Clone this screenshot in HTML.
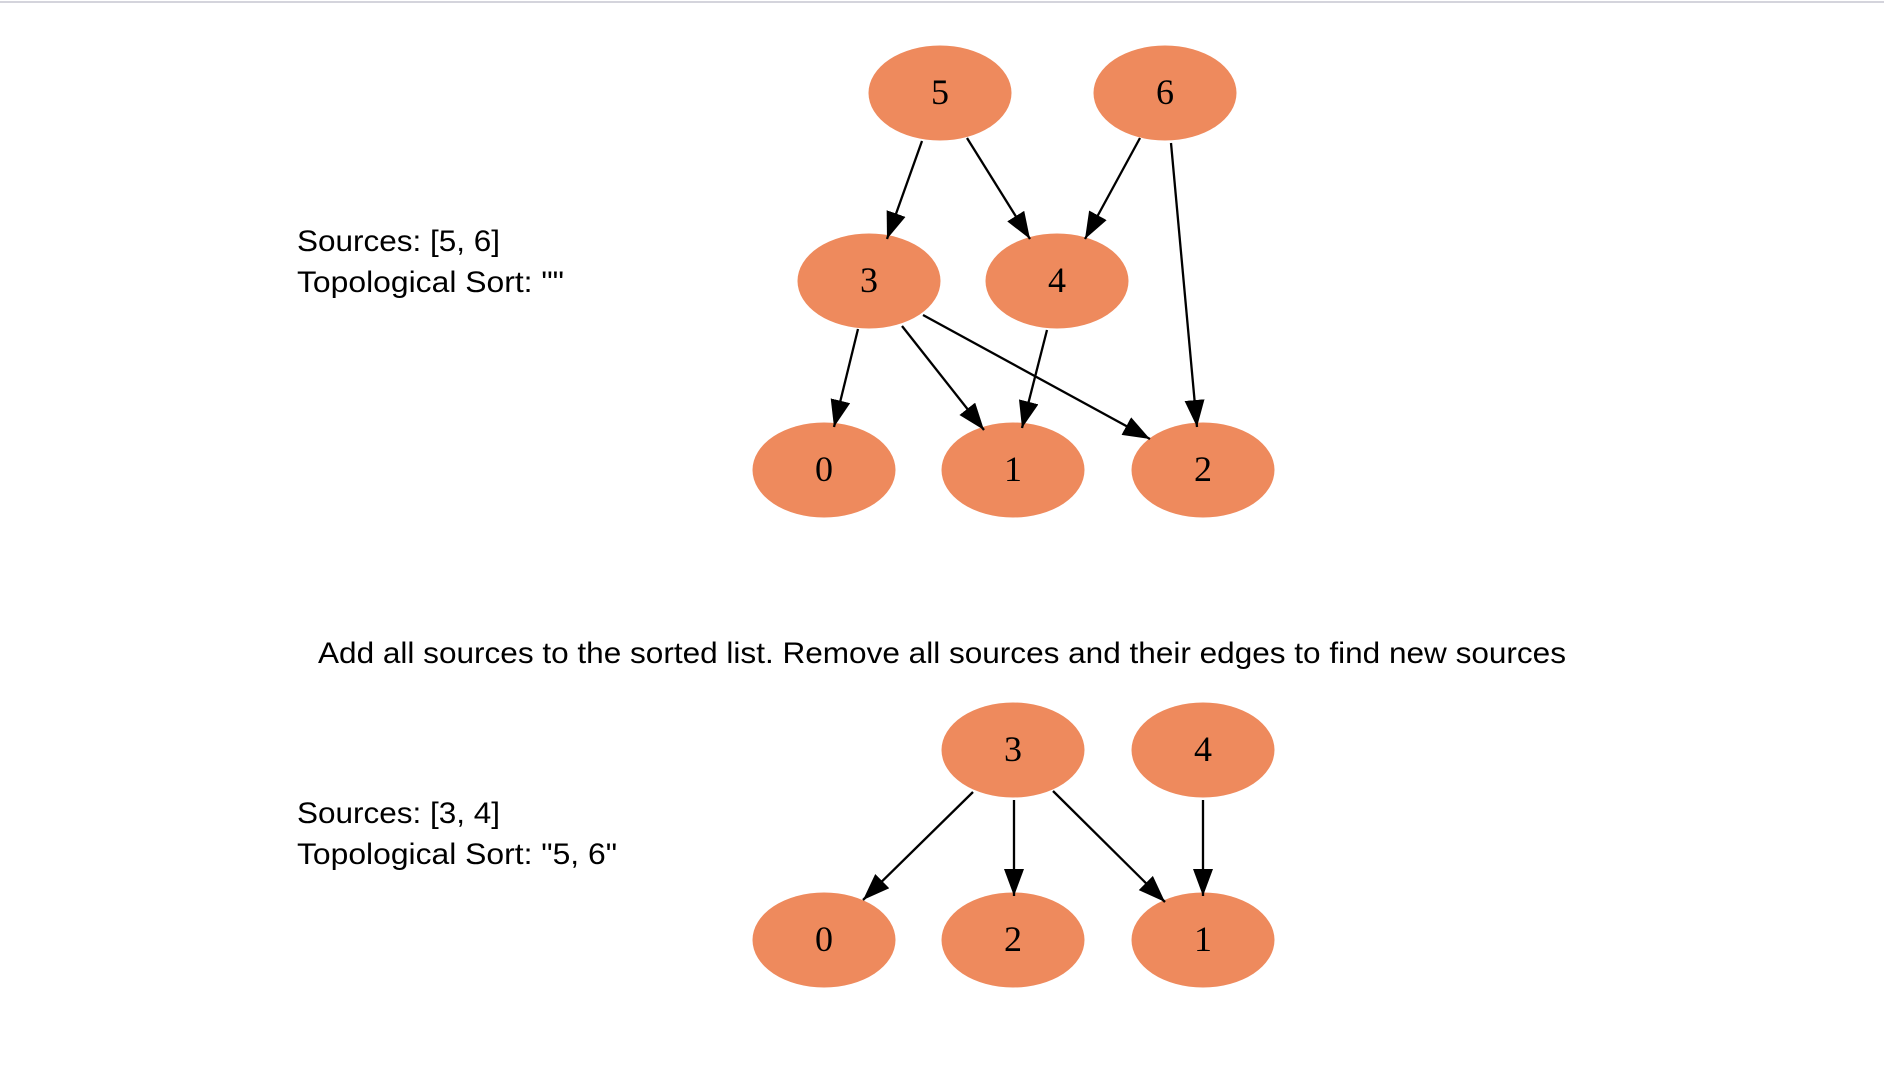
<!DOCTYPE html>
<html><head><meta charset="utf-8"><style>
html,body{margin:0;padding:0;background:#fff;}
svg{display:block;}
</style></head><body>
<svg width="1884" height="1084" viewBox="0 0 1884 1084" xmlns="http://www.w3.org/2000/svg">
<defs>
<marker id="a" markerUnits="userSpaceOnUse" markerWidth="30" markerHeight="24" refX="27" refY="10" orient="auto">
<path d="M0,0 L27,10 L0,20 Z" fill="#000"/>
</marker>
</defs>
<line x1="0" y1="2" x2="1884" y2="2" stroke="#d4d4dc" stroke-width="2"/>
<g fill="#EE8A5D">
<ellipse cx="940" cy="93" rx="71.5" ry="47.5"/>
<ellipse cx="1165" cy="93" rx="71.5" ry="47.5"/>
<ellipse cx="869" cy="281" rx="71.5" ry="47.5"/>
<ellipse cx="1057" cy="281" rx="71.5" ry="47.5"/>
<ellipse cx="824" cy="470" rx="71.5" ry="47.5"/>
<ellipse cx="1013" cy="470" rx="71.5" ry="47.5"/>
<ellipse cx="1203" cy="470" rx="71.5" ry="47.5"/>
<ellipse cx="1013" cy="750" rx="71.5" ry="47.5"/>
<ellipse cx="1203" cy="750" rx="71.5" ry="47.5"/>
<ellipse cx="824" cy="940" rx="71.5" ry="47.5"/>
<ellipse cx="1013" cy="940" rx="71.5" ry="47.5"/>
<ellipse cx="1203" cy="940" rx="71.5" ry="47.5"/>
</g>
<g stroke="#000" stroke-width="2.3" marker-end="url(#a)">
<line x1="922" y1="141" x2="887" y2="239"/>
<line x1="967" y1="138" x2="1030" y2="239"/>
<line x1="1140" y1="138" x2="1085" y2="239"/>
<line x1="1171" y1="143" x2="1197" y2="427"/>
<line x1="858" y1="329" x2="834" y2="427"/>
<line x1="902" y1="326" x2="984" y2="430"/>
<line x1="923" y1="315" x2="1150" y2="439"/>
<line x1="1047" y1="330" x2="1022" y2="428"/>
<line x1="973" y1="792" x2="863" y2="900"/>
<line x1="1014" y1="800" x2="1014" y2="896"/>
<line x1="1053" y1="791" x2="1165" y2="902"/>
<line x1="1203" y1="800" x2="1203" y2="896"/>
</g>
<g font-family="Liberation Serif, serif" font-size="36" text-anchor="middle" fill="#000">
<text x="940" y="104">5</text>
<text x="1165" y="104">6</text>
<text x="869" y="292">3</text>
<text x="1057" y="292">4</text>
<text x="824" y="481">0</text>
<text x="1013" y="481">1</text>
<text x="1203" y="481">2</text>
<text x="1013" y="761">3</text>
<text x="1203" y="761">4</text>
<text x="824" y="951">0</text>
<text x="1013" y="951">2</text>
<text x="1203" y="951">1</text>
</g>
<g font-family="Liberation Sans, sans-serif" font-size="30" fill="#000">
<text x="297" y="251" textLength="203" lengthAdjust="spacingAndGlyphs">Sources: [5, 6]</text>
<text x="297" y="292" textLength="267" lengthAdjust="spacingAndGlyphs">Topological Sort: ""</text>
<text x="318" y="663" textLength="1248" lengthAdjust="spacingAndGlyphs">Add all sources to the sorted list. Remove all sources and their edges to find new sources</text>
<text x="297" y="823" textLength="203" lengthAdjust="spacingAndGlyphs">Sources: [3, 4]</text>
<text x="297" y="864" textLength="320" lengthAdjust="spacingAndGlyphs">Topological Sort: "5, 6"</text>
</g>
</svg>
</body></html>
